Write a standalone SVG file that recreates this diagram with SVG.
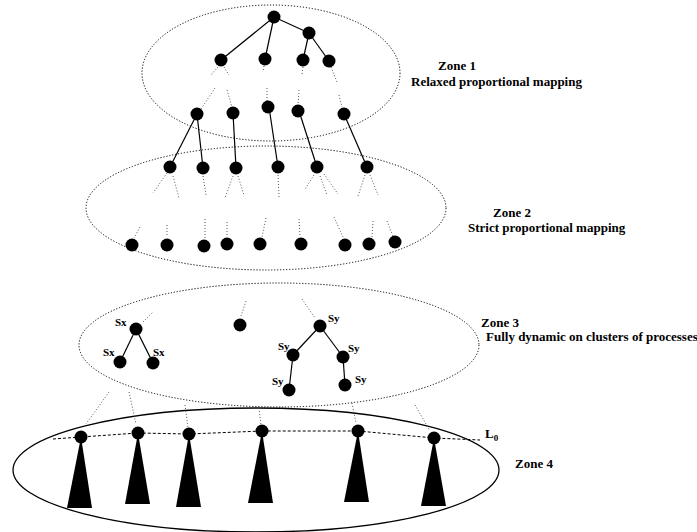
<svg xmlns="http://www.w3.org/2000/svg" width="697" height="532" viewBox="0 0 697 532">
<style>
.zone{fill:none;stroke:#000;stroke-width:1;stroke-dasharray:1.2 1.8}
.zone4{fill:none;stroke:#000;stroke-width:1.3}
.n{fill:#000}
.e{stroke:#000;stroke-width:1.2;fill:none}
.d{stroke:#555;stroke-width:1;stroke-dasharray:1 2;fill:none}
.l0{stroke:#000;stroke-width:1;stroke-dasharray:3 2;fill:none}
.t{font-family:"Liberation Serif","Times New Roman",serif;font-weight:bold;font-size:13px;fill:#000}
.s{font-family:"Liberation Serif","Times New Roman",serif;font-weight:bold;font-size:11px;fill:#000}
</style>
<rect width="697" height="532" fill="#fff"/>
<g id="zones">
<g id="zone1"><ellipse class="zone" cx="271" cy="73" rx="129" ry="68"/><text class="t" x="438" y="70">Zone 1</text><text class="t" x="411" y="86">Relaxed proportional mapping</text></g>
<g id="zone2"><ellipse class="zone" cx="266" cy="208" rx="180" ry="62"/><text class="t" x="493" y="217">Zone 2</text><text class="t" x="468" y="232">Strict proportional mapping</text></g>
<g id="zone3"><ellipse class="zone" cx="279" cy="345" rx="200" ry="62"/><text class="t" x="481" y="327">Zone 3</text><text class="t" x="486" y="341">Fully dynamic on clusters of processes</text></g>
<g id="zone4"><ellipse class="zone4" cx="256" cy="470" rx="243" ry="62"/><text class="t" x="515" y="468">Zone 4</text></g>
</g>
<g id="connectors">
<g id="solid-edges">
<line class="e" x1="274" y1="17" x2="221" y2="60"/>
<line class="e" x1="274" y1="17" x2="265" y2="59"/>
<line class="e" x1="274" y1="17" x2="309" y2="33"/>
<line class="e" x1="309" y1="33" x2="303" y2="60"/>
<line class="e" x1="309" y1="33" x2="329" y2="61"/>
<line class="e" x1="197" y1="114" x2="170" y2="167"/>
<line class="e" x1="197" y1="114" x2="203" y2="168"/>
<line class="e" x1="233" y1="113" x2="236" y2="168"/>
<line class="e" x1="269" y1="107" x2="278" y2="167"/>
<line class="e" x1="299" y1="111" x2="317" y2="167"/>
<line class="e" x1="344" y1="114" x2="367" y2="167"/>
<line class="e" x1="136" y1="329" x2="120" y2="362"/>
<line class="e" x1="136" y1="329" x2="153" y2="363"/>
<line class="e" x1="320" y1="326" x2="293" y2="355"/>
<line class="e" x1="320" y1="326" x2="343" y2="357"/>
<line class="e" x1="293" y1="355" x2="289" y2="390"/>
<line class="e" x1="343" y1="357" x2="345" y2="385"/>
</g>
<g id="dotted-stubs">
<line class="d" x1="218" y1="67" x2="211" y2="75"/>
<line class="d" x1="224" y1="67" x2="229" y2="75"/>
<line class="d" x1="215" y1="88" x2="201" y2="109"/>
<line class="d" x1="227" y1="90" x2="232" y2="107"/>
<line class="d" x1="264" y1="66" x2="263" y2="72"/>
<line class="d" x1="267" y1="88" x2="267" y2="101"/>
<line class="d" x1="303" y1="67" x2="302" y2="75"/>
<line class="d" x1="299" y1="90" x2="298" y2="105"/>
<line class="d" x1="331" y1="67" x2="337" y2="82"/>
<line class="d" x1="339" y1="95" x2="342" y2="107"/>
<line class="d" x1="167" y1="173" x2="153" y2="193"/>
<line class="d" x1="173" y1="176" x2="179" y2="198"/>
<line class="d" x1="203" y1="176" x2="206" y2="195"/>
<line class="d" x1="233" y1="176" x2="225" y2="198"/>
<line class="d" x1="238" y1="176" x2="244" y2="195"/>
<line class="d" x1="278" y1="175" x2="279" y2="197"/>
<line class="d" x1="314" y1="175" x2="305" y2="189"/>
<line class="d" x1="320" y1="176" x2="327" y2="195"/>
<line class="d" x1="324" y1="174" x2="338" y2="194"/>
<line class="d" x1="365" y1="175" x2="358" y2="196"/>
<line class="d" x1="370" y1="175" x2="378" y2="195"/>
<line class="d" x1="140" y1="227" x2="134" y2="238"/>
<line class="d" x1="167" y1="225" x2="167" y2="237"/>
<line class="d" x1="205" y1="219" x2="205" y2="238"/>
<line class="d" x1="227" y1="222" x2="227" y2="237"/>
<line class="d" x1="266" y1="218" x2="262" y2="237"/>
<line class="d" x1="299" y1="219" x2="300" y2="237"/>
<line class="d" x1="334" y1="217" x2="343" y2="237"/>
<line class="d" x1="373" y1="221" x2="372" y2="237"/>
<line class="d" x1="387" y1="221" x2="393" y2="236"/>
<line class="d" x1="143" y1="322" x2="153" y2="312"/>
<line class="d" x1="246" y1="301" x2="241" y2="316"/>
<line class="d" x1="302" y1="299" x2="315" y2="318"/>
<line class="d" x1="109" y1="392" x2="86" y2="424"/>
<line class="d" x1="129" y1="392" x2="136" y2="424"/>
<line class="d" x1="185" y1="405" x2="188" y2="428"/>
<line class="d" x1="259" y1="408" x2="261" y2="425"/>
<line class="d" x1="352" y1="403" x2="356" y2="423"/>
<line class="d" x1="415" y1="405" x2="430" y2="431"/>
</g>
<g id="L0"><polyline class="l0" points="53,439 81,437 138,433 189,434 262,431 358,431 434,438 480,440"/><text class="t" x="485" y="438">L<tspan font-size="9" dy="3">0</tspan></text></g>
</g>
<g id="nodes">
<g id="z1-root"><circle class="n" cx="274" cy="17" r="6.5"/></g>
<g id="z1-b"><circle class="n" cx="309" cy="33" r="6.5"/></g>
<g id="z1-c"><circle class="n" cx="221" cy="60" r="6.5"/></g>
<g id="z1-d"><circle class="n" cx="265" cy="59" r="6.5"/></g>
<g id="z1-e"><circle class="n" cx="303" cy="60" r="6.5"/></g>
<g id="z1-f"><circle class="n" cx="329" cy="61" r="6.5"/></g>
<g id="z1-g"><circle class="n" cx="197" cy="114" r="6.5"/></g>
<g id="z1-h"><circle class="n" cx="233" cy="113" r="6.5"/></g>
<g id="z1-i"><circle class="n" cx="268" cy="107" r="6.5"/></g>
<g id="z1-j"><circle class="n" cx="298" cy="111" r="6.5"/></g>
<g id="z1-k"><circle class="n" cx="344" cy="114" r="6.5"/></g>
<g id="z2-a"><circle class="n" cx="170" cy="167" r="6.5"/></g>
<g id="z2-b"><circle class="n" cx="203" cy="168" r="6.5"/></g>
<g id="z2-c"><circle class="n" cx="236" cy="168" r="6.5"/></g>
<g id="z2-d"><circle class="n" cx="278" cy="167" r="6.5"/></g>
<g id="z2-e"><circle class="n" cx="317" cy="167" r="6.5"/></g>
<g id="z2-f"><circle class="n" cx="367" cy="167" r="6.5"/></g>
<g id="z2-g"><circle class="n" cx="132" cy="245" r="6.5"/></g>
<g id="z2-h"><circle class="n" cx="167" cy="245" r="6.5"/></g>
<g id="z2-i"><circle class="n" cx="204" cy="246" r="6.5"/></g>
<g id="z2-j"><circle class="n" cx="227" cy="244" r="6.5"/></g>
<g id="z2-k"><circle class="n" cx="260" cy="244" r="6.5"/></g>
<g id="z2-l"><circle class="n" cx="301" cy="244" r="6.5"/></g>
<g id="z2-m"><circle class="n" cx="345" cy="245" r="6.5"/></g>
<g id="z2-n"><circle class="n" cx="369" cy="244" r="6.5"/></g>
<g id="z2-o"><circle class="n" cx="395" cy="242" r="6.5"/></g>
<g id="sx1"><circle class="n" cx="136" cy="329" r="6.5"/><text class="s" x="115" y="326">Sx</text></g>
<g id="sx2"><circle class="n" cx="120" cy="362" r="6.5"/><text class="s" x="103" y="356">Sx</text></g>
<g id="sx3"><circle class="n" cx="153" cy="363" r="6.5"/><text class="s" x="153" y="356">Sx</text></g>
<g id="z3-mid"><circle class="n" cx="240" cy="325" r="6.5"/></g>
<g id="sy1"><circle class="n" cx="320" cy="326" r="6.5"/><text class="s" x="328" y="322">Sy</text></g>
<g id="sy2"><circle class="n" cx="293" cy="355" r="6.5"/><text class="s" x="278" y="350">Sy</text></g>
<g id="sy3"><circle class="n" cx="343" cy="357" r="6.5"/><text class="s" x="348" y="352">Sy</text></g>
<g id="sy4"><circle class="n" cx="289" cy="390" r="6.5"/><text class="s" x="272" y="385">Sy</text></g>
<g id="sy5"><circle class="n" cx="345" cy="385" r="6.5"/><text class="s" x="355" y="383">Sy</text></g>
<g id="z4-1"><circle class="n" cx="81" cy="437" r="6.5"/><polygon class="n" points="81,437 92,508 67,508"/></g>
<g id="z4-2"><circle class="n" cx="138" cy="433" r="6.5"/><polygon class="n" points="138,433 150,504 125,504"/></g>
<g id="z4-3"><circle class="n" cx="189" cy="434" r="6.5"/><polygon class="n" points="189,434 201,507 176,507"/></g>
<g id="z4-4"><circle class="n" cx="262" cy="431" r="6.5"/><polygon class="n" points="262,431 273,503 248,503"/></g>
<g id="z4-5"><circle class="n" cx="358" cy="431" r="6.5"/><polygon class="n" points="358,431 369,502 344,502"/></g>
<g id="z4-6"><circle class="n" cx="434" cy="438" r="6.5"/><polygon class="n" points="434,438 446,506 421,506"/></g>
</g>
</svg>
